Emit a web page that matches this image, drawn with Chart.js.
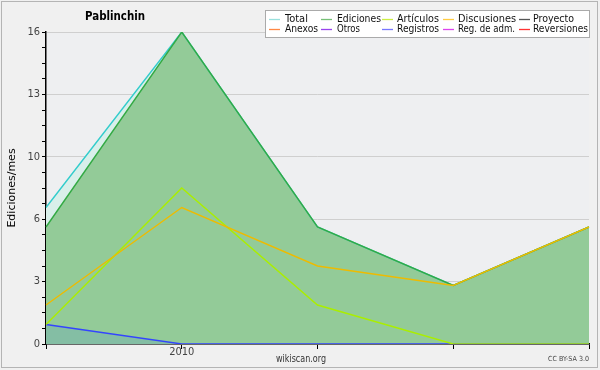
<!DOCTYPE html>
<html>
<head>
<meta charset="utf-8">
<script src="https://cdn.jsdelivr.net/npm/chart.js@4/dist/chart.umd.min.js"></script>
<style>
  body { margin: 0; background: #f0f0f0; }
  canvas { display: block; }
</style>
</head>
<body>
<canvas id="chart" width="600" height="370"></canvas>
<script>
// months, only the first of the year gets a label
const months = ['', '2010', '', '', ''];

// edits per month
const total       = [7, 16, 6, 3, 6];
const ediciones   = [6, 16, 6, 3, 6];
const articulos   = [1, 8, 2, 0, 0];
const discusiones = [2, 7, 4, 3, 6];
const registros   = [1, 0, 0, 0, 0];
const empty       = [null, null, null, null, null];

const seriesNames = ['Total', 'Ediciones', 'Artículos', 'Discusiones', 'Proyecto',
                     'Anexos', 'Otros', 'Registros', 'Reg. de adm.', 'Reversiones'];
const legendColors = ['#99e0dd', '#77c077', '#ccee44', '#ffcc44', '#555555',
                      '#ff8844', '#9944ee', '#7777ff', '#dd44ee', '#ff3333'];

const yTitle = 'Ediciones/mes';
const chartTitle = 'Pablinchin';

const FONT = '"DejaVu Sans", Verdana, sans-serif';
const NARROW = '"DejaVu Sans Condensed", "DejaVu Sans", sans-serif';

var line = function(label, data, color, order, fillColor) {
    return {
        label: label,
        data: data,
        borderColor: color,
        borderWidth: 1.4,
        pointRadius: 0,
        tension: 0,
        order: order,
        fill: fillColor ? 'origin' : false,
        backgroundColor: fillColor || color
    };
};

const datasets = [
    line('Total', total, '#33cccc', 10, '#d9efea'),
    line('Ediciones', ediciones, '#33aa44', 9, '#93cb98'),
    line('Registros', registros, '#3344ff', 8, '#84bea4'),
    line('Artículos', articulos, '#aaee00', 7),
    line('Discusiones', discusiones, '#eebb00', 6),
    line('Proyecto', empty, '#555555', 5),
    line('Anexos', empty, '#ff8844', 5),
    line('Otros', empty, '#9944ee', 5),
    line('Reg. de adm.', empty, '#dd44ee', 5),
    line('Reversiones', empty, '#ff3333', 5)
];

// draw text, squeezed only if it runs wider than the room it has
var fitText = function(ctx, text, x, y, width) {
    const w = ctx.measureText(text).width;
    const sx = Math.min(1, width / w);
    ctx.save();
    ctx.translate(x, y);
    ctx.scale(sx, 1);
    ctx.fillText(text, 0, 0);
    ctx.restore();
};

// background, frame, titles, legend and footer
const decor = {
    id: 'decor',
    beforeDraw(chart) {
        const ctx = chart.ctx, a = chart.chartArea;
        ctx.save();
        ctx.fillStyle = '#f0f0f0';
        ctx.fillRect(0, 0, 600, 370);
        ctx.strokeStyle = '#b4b4b4';
        ctx.lineWidth = 1;
        ctx.strokeRect(1.5, 1.5, 596, 366);
        ctx.fillStyle = '#eeeff1';
        ctx.fillRect(a.left, a.top, a.right - a.left, a.bottom - a.top);
        ctx.restore();
    },
    afterDraw(chart) {
        const ctx = chart.ctx;
        ctx.save();
        ctx.fillStyle = '#000';
        ctx.font = 'bold 13px ' + NARROW;
        ctx.textAlign = 'left';
        ctx.textBaseline = 'middle';
        fitText(ctx, chartTitle, 85, 17, 60);

        // y title
        ctx.save();
        ctx.translate(12, 188);
        ctx.rotate(-Math.PI / 2);
        ctx.font = '11px ' + FONT;
        ctx.textAlign = 'center';
        ctx.fillText(yTitle, 0, 0);
        ctx.restore();

        // legend box
        ctx.fillStyle = '#ffffff';
        ctx.fillRect(265, 10, 325, 28);
        ctx.strokeStyle = '#aaaaaa';
        ctx.lineWidth = 1;
        ctx.strokeRect(265.5, 10.5, 324, 27);
        const swatchX = [269, 321, 382, 443, 519];
        const textX = [285, 337, 397, 458, 533];
        const textW = [23, 44, 42, 58, 41, 33, 23, 42, 57, 55];
        const rows = [19, 29];
        ctx.font = '11px ' + NARROW;
        for (let i = 0; i < seriesNames.length; i++) {
            const c = i % 5, y = rows[Math.floor(i / 5)];
            ctx.strokeStyle = legendColors[i];
            ctx.lineWidth = 1.3;
            ctx.beginPath();
            ctx.moveTo(swatchX[c], y + 0.5);
            ctx.lineTo(swatchX[c] + 11, y + 0.5);
            ctx.stroke();
            ctx.fillStyle = '#111';
            fitText(ctx, seriesNames[i], textX[c], y, textW[i]);
        }

        // footer
        ctx.fillStyle = '#333';
        ctx.font = '10px ' + NARROW;
        fitText(ctx, 'wikiscan.org', 276, 359, 50);
        ctx.font = '7px ' + FONT;
        ctx.fillStyle = '#444';
        fitText(ctx, 'CC BY-SA 3.0', 548, 359, 41);
        ctx.restore();
    }
};

new Chart(document.getElementById('chart'), {
    type: 'line',
    data: { labels: months, datasets: datasets },
    options: {
        responsive: false,
        animation: false,
        devicePixelRatio: 1,
        layout: { padding: { top: 32, right: 11, left: 0, bottom: 0 } },
        plugins: {
            legend: { display: false },
            tooltip: { enabled: false },
            filler: { drawTime: 'beforeDatasetsDraw' }
        },
        scales: {
            x: {
                type: 'category',
                offset: false,
                afterFit: function(s) { s.height = 26; },
                grid: { drawOnChartArea: false, tickLength: 5, tickColor: '#000' },
                border: { color: '#000', width: 1.5 },
                ticks: {
                    autoSkip: false,
                    maxRotation: 0,
                    padding: -3,
                    color: '#444',
                    font: { family: NARROW, size: 11 }
                }
            },
            y: {
                min: 0,
                max: 16,
                afterFit: function(s) { s.width = 46; },
                grid: {
                    color: function(c) { return c.index % 4 === 0 ? '#cfcfcf' : 'rgba(0,0,0,0)'; },
                    tickColor: '#000',
                    tickLength: 4
                },
                border: { color: '#000', width: 1.5 },
                ticks: {
                    stepSize: 0.8,
                    autoSkip: false,
                    maxTicksLimit: 100,
                    padding: 2,
                    color: '#444',
                    font: { family: NARROW, size: 11 },
                    callback: function(v, i) { return i % 4 === 0 ? String(Math.round(v)) : ''; }
                }
            }
        }
    },
    plugins: [decor]
});
</script>
</body>
</html>
